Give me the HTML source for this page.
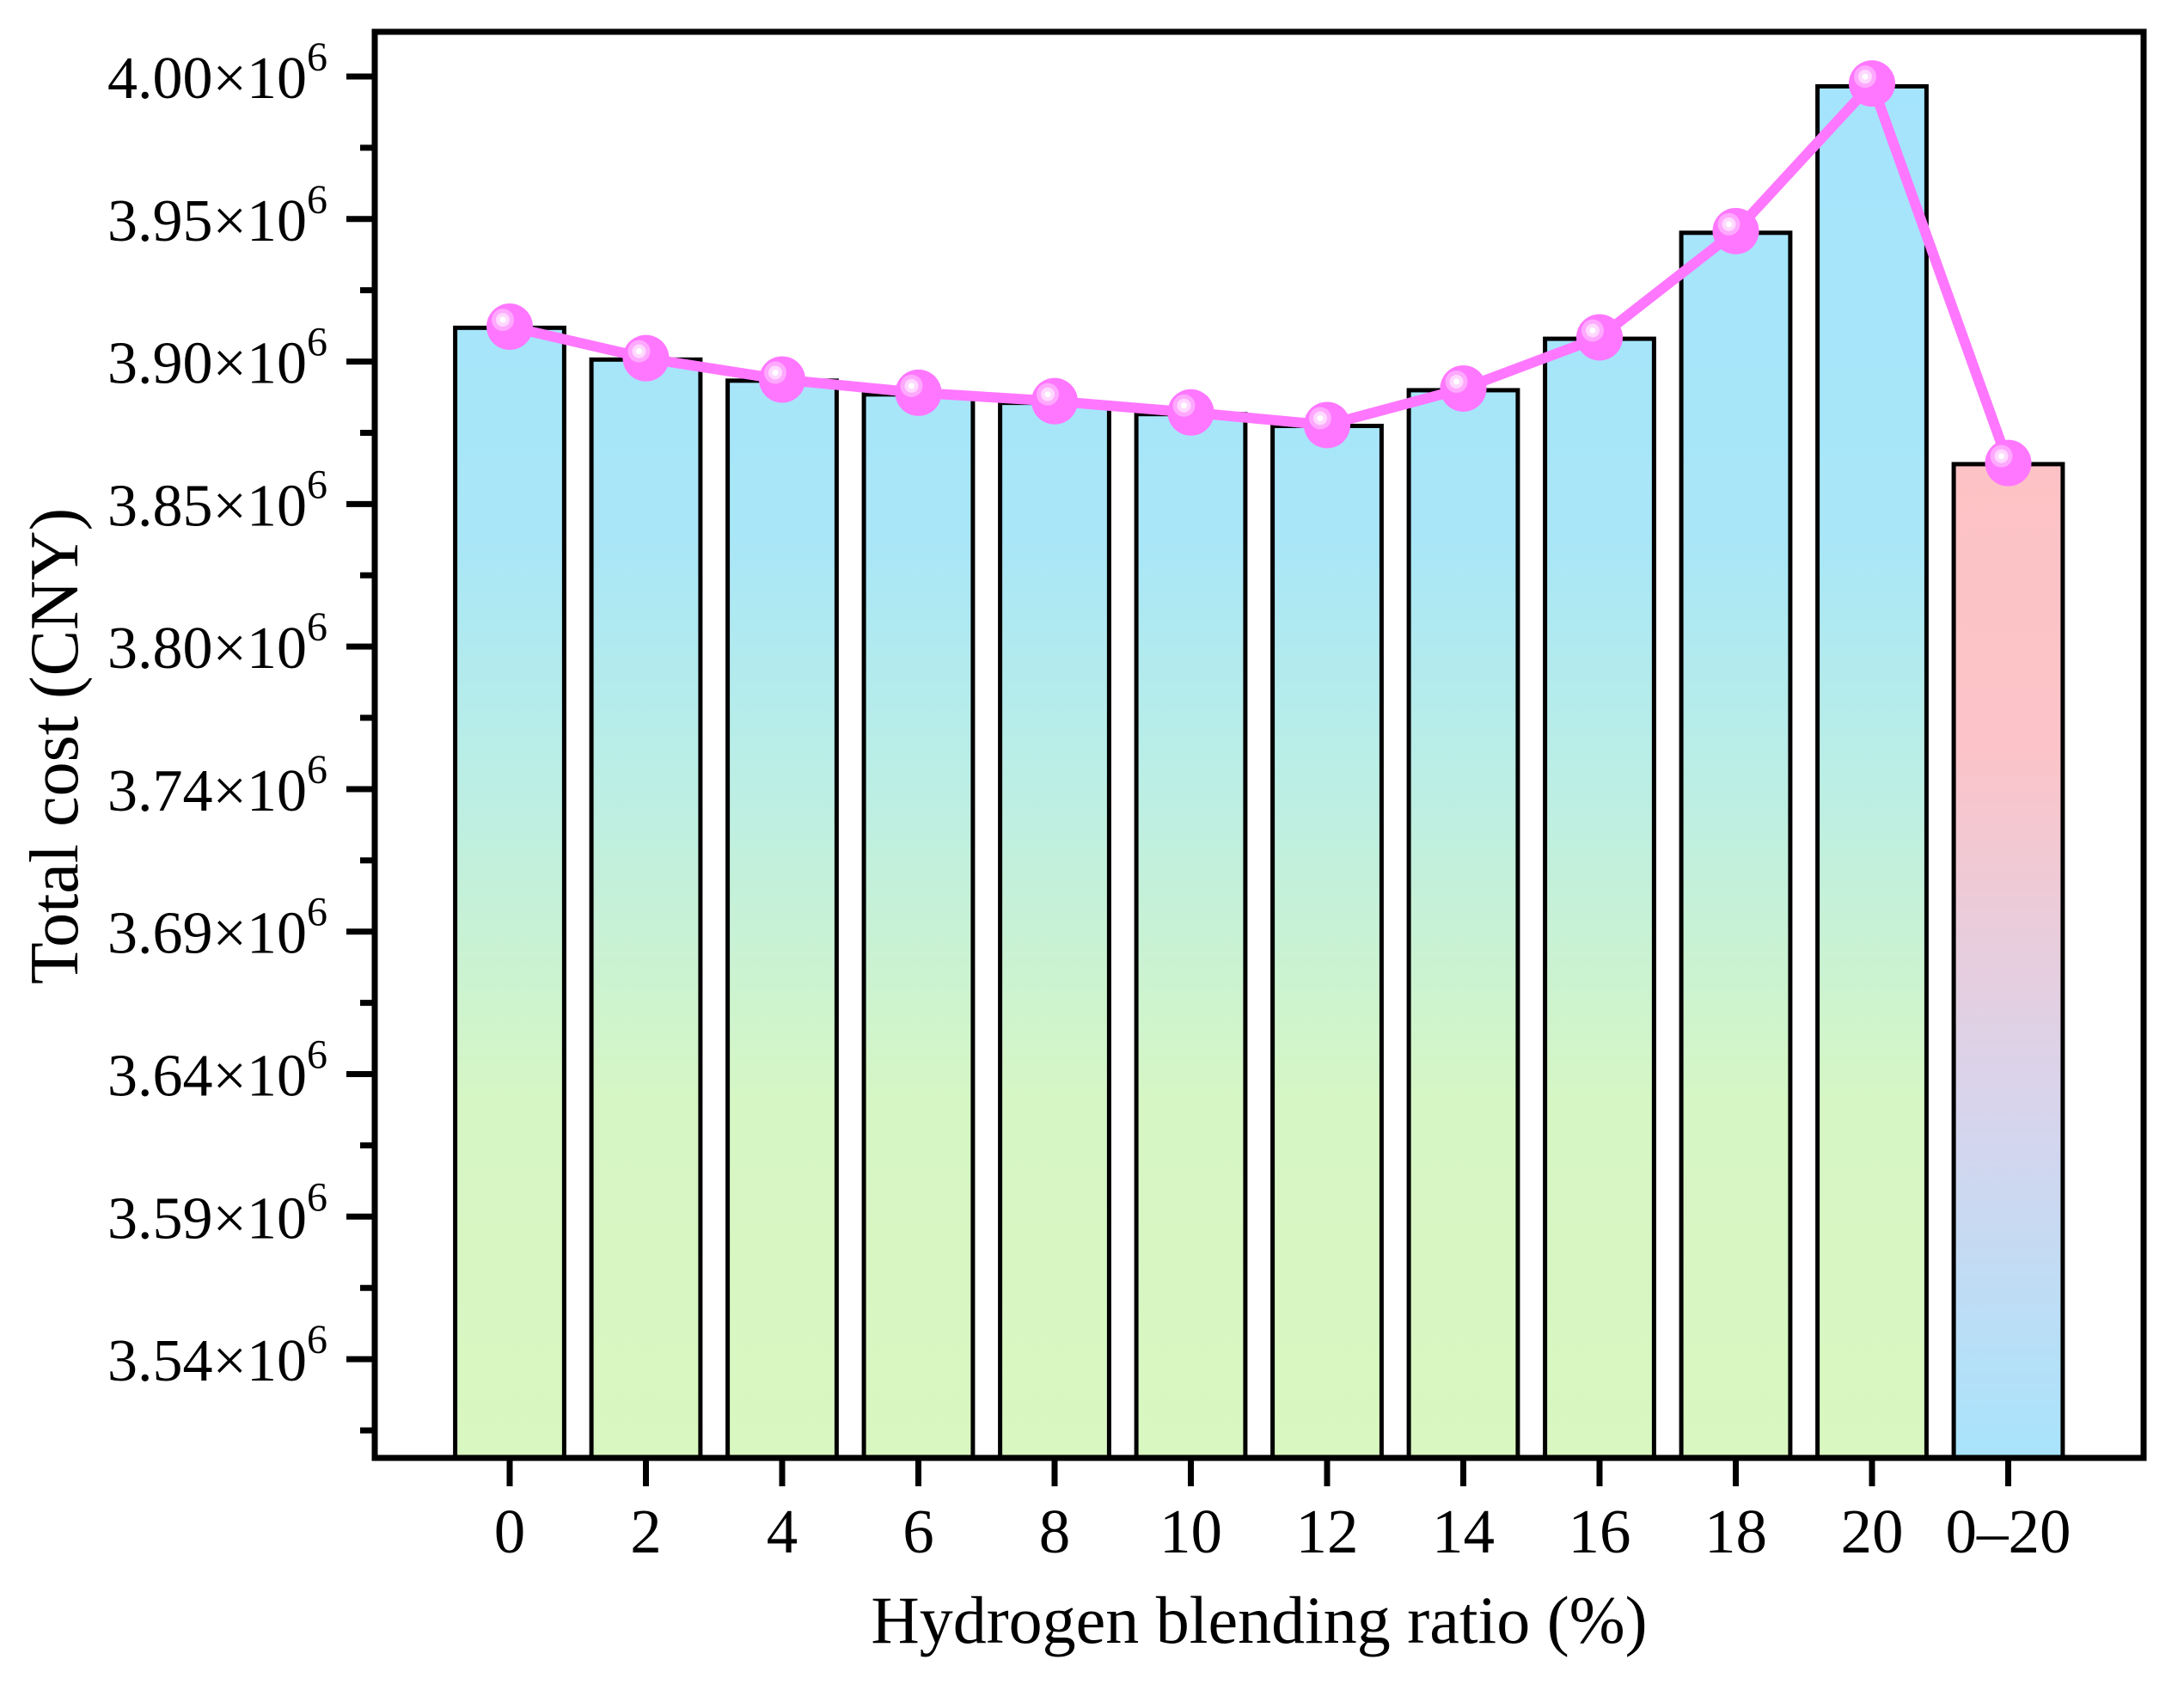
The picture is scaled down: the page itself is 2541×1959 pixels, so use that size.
<!DOCTYPE html>
<html><head><meta charset="utf-8"><style>
html,body{margin:0;padding:0;background:#fff;}
svg{display:block;font-family:"Liberation Serif",serif;}
</style></head><body>
<svg id="chart" width="2541" height="1959" viewBox="0 0 2541 1959" xmlns="http://www.w3.org/2000/svg">
<defs>
<linearGradient id="gBlueGreen" gradientUnits="userSpaceOnUse" x1="0" y1="37" x2="0" y2="1696">
<stop offset="0" stop-color="#a4e4fc"/><stop offset="0.35" stop-color="#a8e6f8"/><stop offset="0.5" stop-color="#b8ede8"/><stop offset="0.75" stop-color="#d6f6c4"/><stop offset="1" stop-color="#d9f7c0"/>
</linearGradient>
<linearGradient id="gPinkBlue" gradientUnits="userSpaceOnUse" x1="0" y1="37" x2="0" y2="1696">
<stop offset="0" stop-color="#fec0c0"/><stop offset="0.5" stop-color="#fcc4c8"/><stop offset="0.75" stop-color="#d8d4ec"/><stop offset="1" stop-color="#a8e4fc"/>
</linearGradient>
</defs>
<g id="bars"></g>
<g id="line"></g>
<g id="axes"></g>
<text x="1465" y="1911" font-size="78" text-anchor="middle">Hydrogen blending ratio (%)</text>
<text x="0" y="0" font-size="80" text-anchor="middle" transform="translate(90,868) rotate(-90)">Total cost (CNY)</text>
</svg>
<script>
const categories = ["0","2","4","6","8","10","12","14","16","18","20","0–20"];
const totalCost = [3.9106,3.8993,3.8918,3.8869,3.8839,3.8799,3.8757,3.8884,3.9067,3.9444,3.9965,3.8621];
const lineCost = [3.9110,3.8998,3.8922,3.8875,3.8845,3.8805,3.8760,3.8890,3.9072,3.9450,3.9975,3.8625];
const yTickValues = [4.0,3.9493,3.8986,3.8479,3.7972,3.7465,3.6958,3.6451,3.5944,3.5437];
const yTickLabels = ["4.00","3.95","3.90","3.85","3.80","3.74","3.69","3.64","3.59","3.54"];

const NS="http://www.w3.org/2000/svg";
const L=436,R=2494,T=37,B=1696;
const yRef=89, pxPerUnit=3270;
function y(v){return yRef+(4.0-v)*pxPerUnit;}
const x0=593, step=158.5;
function x(i){return x0+i*step;}
function mk(tag,attrs,parent){const e=document.createElementNS(NS,tag);for(const k in attrs)e.setAttribute(k,attrs[k]);parent.appendChild(e);return e;}
const bars=document.getElementById('bars'),line=document.getElementById('line'),axes=document.getElementById('axes');
const bw=step*0.8;
totalCost.forEach((v,i)=>{
  const r=mk('rect',{x:x(i)-bw/2,y:y(v),width:bw,height:B-y(v),fill:i===categories.length-1?'url(#gPinkBlue)':'url(#gBlueGreen)',stroke:'#000','stroke-width':5},bars);
  
  
});
const pts=lineCost.map((v,i)=>x(i)+','+y(v)).join(' ');
const pl=mk('polyline',{points:pts,fill:'none',stroke:'#ff77ff','stroke-width':12,'stroke-linejoin':'round'},line);


lineCost.forEach((v,i)=>{
  const g=mk('g',{},line);
  
  
  mk('circle',{cx:x(i),cy:y(v),r:27,fill:'#ff77ff'},g);
  mk('circle',{cx:x(i)-8,cy:y(v)-8,r:13,fill:'#ffa8ff'},g);
  mk('circle',{cx:x(i)-8,cy:y(v)-8,r:8,fill:'#ffd8ff'},g);
  mk('circle',{cx:x(i)-8,cy:y(v)-8,r:3.5,fill:'#ffffff'},g);
});
const fr=mk('rect',{x:L,y:T,width:R-L,height:B-T,fill:'none',stroke:'#000','stroke-width':7},axes);


yTickValues.forEach((v,i)=>{
  const ty=y(v);
  const t=mk('line',{x1:L-33,x2:L,y1:ty,y2:ty,stroke:'#000','stroke-width':7},axes);
  
  
  const tx=mk('text',{x:381,y:ty+25,'font-size':70,'text-anchor':'end'},axes);
  
  
  tx.appendChild(document.createTextNode(yTickLabels[i]+'×10'));
  const s=document.createElementNS(NS,'tspan');s.setAttribute('dy','-32');s.setAttribute('font-size','48');s.textContent='6';tx.appendChild(s);
  const mv=(v+(yTickValues[i+1]!==undefined?yTickValues[i+1]:v-0.0507))/2;
  const my=y(mv);
  if(my<B-3){const m=mk('line',{x1:L-17,x2:L,y1:my,y2:my,stroke:'#000','stroke-width':7},axes);
  
  }
});
categories.forEach((c,i)=>{
  const t=mk('line',{x1:x(i),x2:x(i),y1:B,y2:B+33,stroke:'#000','stroke-width':7},axes);
  
  
  const tx=mk('text',{x:x(i),y:1806,'font-size':73,'text-anchor':'middle'},axes);
  
  
  tx.textContent=c;
});
</script>
</body></html>
